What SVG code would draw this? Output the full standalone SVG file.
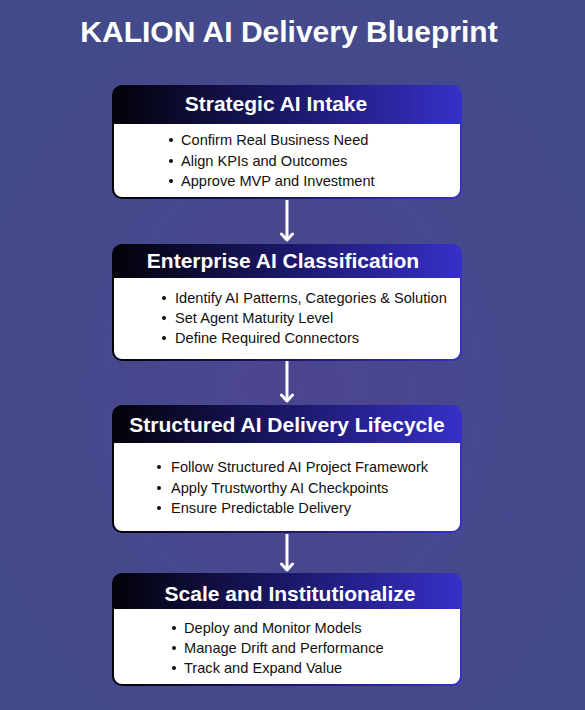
<svg xmlns="http://www.w3.org/2000/svg" width="585" height="710" viewBox="0 0 585 710">
<defs>
<radialGradient id="bg" cx="0.5" cy="0.55" r="0.7">
<stop offset="0" stop-color="#4c4590"/>
<stop offset="1" stop-color="#414b89"/>
</radialGradient>
<linearGradient id="hdr" x1="0" y1="0" x2="1" y2="0">
<stop offset="0" stop-color="#020208"/>
<stop offset="0.5" stop-color="#1b1868"/>
<stop offset="1" stop-color="#3630c8"/>
</linearGradient>
<marker id="ah" viewBox="0 0 10 14" refX="8" refY="7" markerWidth="10" markerHeight="14" markerUnits="userSpaceOnUse" orient="auto">
<path d="M2,1.5 L8,7 L2,12.5" fill="none" stroke="#ffffff" stroke-width="3" stroke-linecap="round" stroke-linejoin="round"/>
</marker>
</defs>
<style>
.frame{fill:url(#hdr);}
.body{fill:#ffffff;}
.hd{font-family:"Liberation Sans",Arial,sans-serif;font-weight:bold;font-size:21px;fill:#ffffff;text-anchor:middle;}
.it{font-family:"Liberation Sans",Arial,sans-serif;font-size:14.6px;fill:#111111;}
.bul{fill:#111111;}
.title{font-family:"Liberation Sans",Arial,sans-serif;font-weight:bold;font-size:30px;fill:#ffffff;text-anchor:middle;}
.conn{stroke:#ffffff;stroke-width:3;fill:none;}
</style>
<rect x="0" y="0" width="585" height="710" fill="url(#bg)"/>
<text class="title" x="289" y="42">KALION AI Delivery Blueprint</text>

<g id="connectors">
<line class="conn" x1="287" y1="200" x2="287" y2="240" marker-end="url(#ah)"/>
<line class="conn" x1="287" y1="361" x2="287" y2="401" marker-end="url(#ah)"/>
<line class="conn" x1="287" y1="534" x2="287" y2="570" marker-end="url(#ah)"/>
</g>

<g id="node1">
<rect class="frame" x="112" y="85" width="350" height="114" rx="10"/>
<path class="body" d="M114,124 H460 V189 A8,8 0 0 1 452,197 H122 A8,8 0 0 1 114,189 Z"/>
<text class="hd" x="276" y="111">Strategic AI Intake</text>
<circle class="bul" cx="171" cy="140" r="2"/>
<circle class="bul" cx="171" cy="161" r="2"/>
<circle class="bul" cx="171" cy="181" r="2"/>
<text class="it" x="181" y="145">Confirm Real Business Need</text>
<text class="it" x="181" y="166">Align KPIs and Outcomes</text>
<text class="it" x="181" y="186">Approve MVP and Investment</text>
</g>

<g id="node2">
<rect class="frame" x="112" y="244" width="350" height="117" rx="10"/>
<path class="body" d="M114,278 H460 V351 A8,8 0 0 1 452,359 H122 A8,8 0 0 1 114,351 Z"/>
<text class="hd" x="283" y="268">Enterprise AI Classification</text>
<circle class="bul" cx="164" cy="298" r="2"/>
<circle class="bul" cx="164" cy="318" r="2"/>
<circle class="bul" cx="164" cy="338" r="2"/>
<text class="it" x="175" y="303">Identify AI Patterns, Categories &amp; Solution</text>
<text class="it" x="175" y="323">Set Agent Maturity Level</text>
<text class="it" x="175" y="343">Define Required Connectors</text>
</g>

<g id="node3">
<rect class="frame" x="112" y="405" width="350" height="128" rx="10"/>
<path class="body" d="M114,443 H460 V523 A8,8 0 0 1 452,531 H122 A8,8 0 0 1 114,523 Z"/>
<text class="hd" x="287" y="432">Structured AI Delivery Lifecycle</text>
<circle class="bul" cx="159" cy="467" r="2"/>
<circle class="bul" cx="159" cy="488" r="2"/>
<circle class="bul" cx="159" cy="508" r="2"/>
<text class="it" x="171" y="472">Follow Structured AI Project Framework</text>
<text class="it" x="171" y="493">Apply Trustworthy AI Checkpoints</text>
<text class="it" x="171" y="513">Ensure Predictable Delivery</text>
</g>

<g id="node4">
<rect class="frame" x="112" y="573" width="350" height="113" rx="10"/>
<path class="body" d="M114,609 H460 V676 A8,8 0 0 1 452,684 H122 A8,8 0 0 1 114,676 Z"/>
<text class="hd" x="290" y="601">Scale and Institutionalize</text>
<circle class="bul" cx="174" cy="628" r="2"/>
<circle class="bul" cx="174" cy="648" r="2"/>
<circle class="bul" cx="174" cy="668" r="2"/>
<text class="it" x="184" y="633">Deploy and Monitor Models</text>
<text class="it" x="184" y="653">Manage Drift and Performance</text>
<text class="it" x="184" y="673">Track and Expand Value</text>
</g>
</svg>
